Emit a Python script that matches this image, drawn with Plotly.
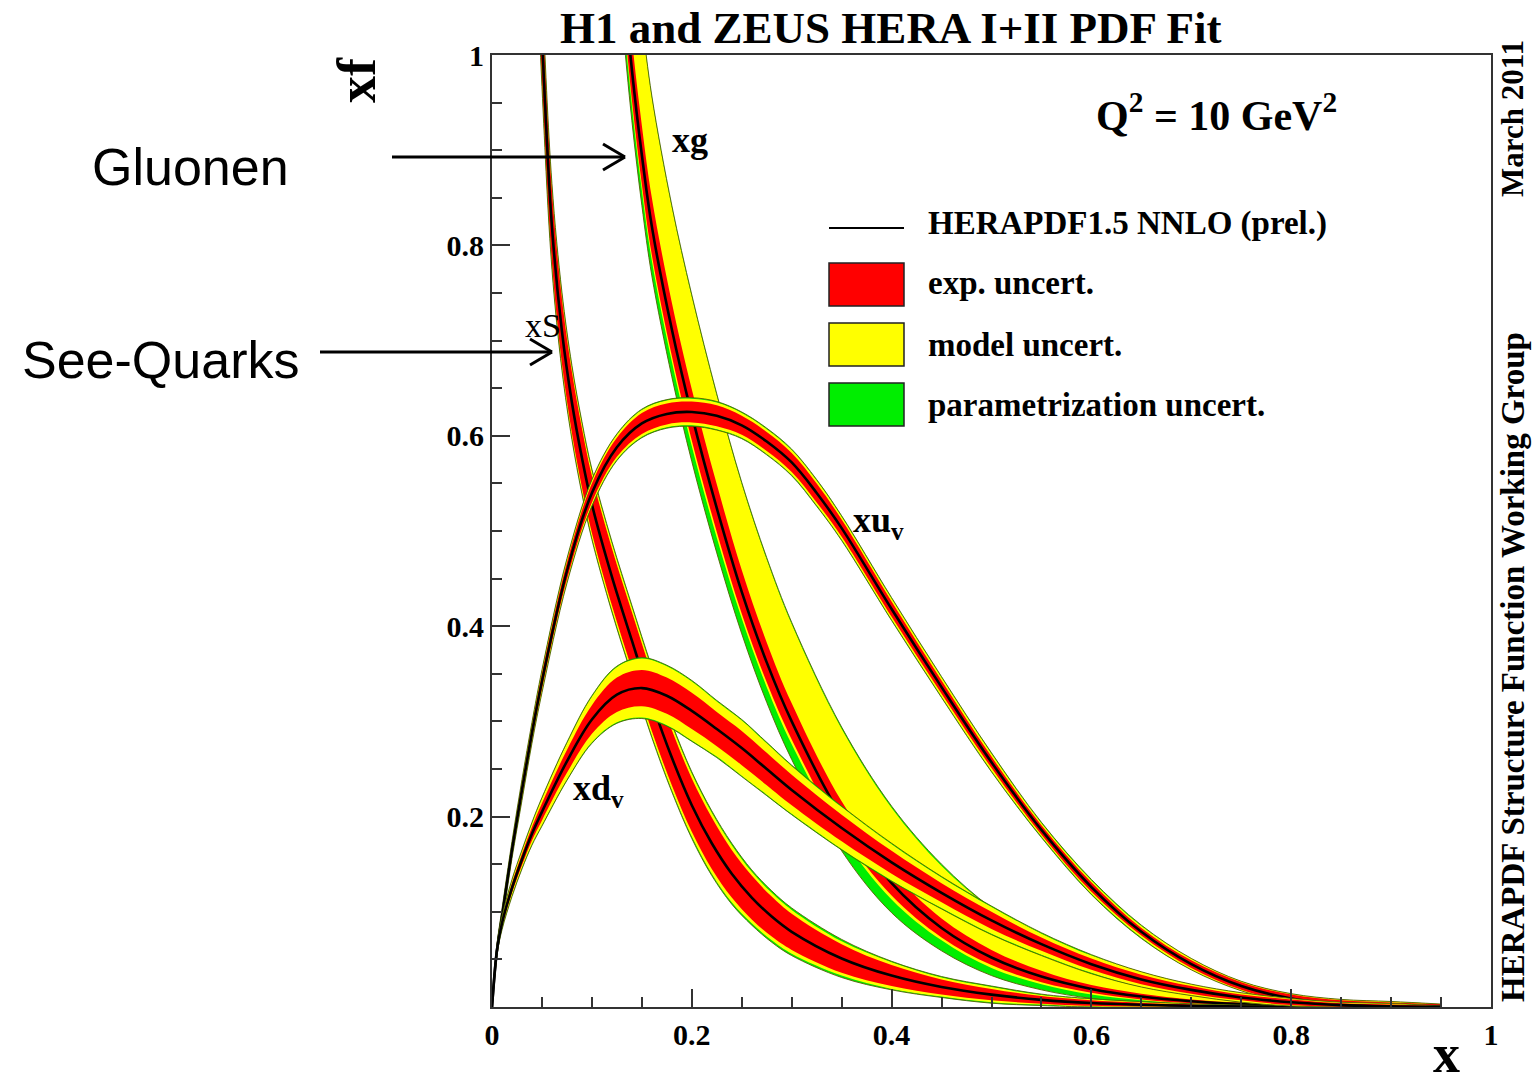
import plotly.graph_objects as go

# ---------------- data ----------------
# valence up
X_UV = [0.0, 0.005, 0.01, 0.02, 0.03, 0.04, 0.05, 0.075, 0.1, 0.125, 0.15, 0.175, 0.2, 0.225, 0.25, 0.275,
        0.3, 0.325, 0.35, 0.4, 0.45, 0.5, 0.55, 0.6, 0.65, 0.7, 0.75, 0.8, 0.85, 0.9, 0.95]
UV = [0.0, 0.06, 0.095, 0.165, 0.228, 0.288, 0.342, 0.458, 0.54, 0.588, 0.613, 0.623, 0.625, 0.621, 0.611, 0.594,
      0.572, 0.54, 0.503, 0.418, 0.336, 0.257, 0.186, 0.126, 0.079, 0.045, 0.022, 0.009, 0.003, 0.0008, 0.0001]
UV_EXP = [0.0, 0.004, 0.005, 0.006, 0.007, 0.007, 0.008, 0.009, 0.01, 0.01, 0.011, 0.011, 0.011, 0.011, 0.01, 0.01,
          0.01, 0.01, 0.009, 0.008, 0.007, 0.006, 0.005, 0.005, 0.004, 0.004, 0.004, 0.004, 0.004, 0.004, 0.003]
UV_MOD = [0.0, 0.001, 0.002, 0.002, 0.003, 0.003, 0.003, 0.003, 0.003, 0.003, 0.003, 0.003, 0.003, 0.003, 0.003, 0.003,
          0.003, 0.003, 0.003, 0.003, 0.003, 0.003, 0.002, 0.002, 0.002, 0.002, 0.001, 0.001, 0.001, 0.001, 0.0]
UV_PAR = [0.0, 0.001, 0.001, 0.001, 0.001, 0.001, 0.001, 0.001, 0.001, 0.001, 0.001, 0.001, 0.001, 0.001, 0.001, 0.001,
          0.001, 0.001, 0.001, 0.001, 0.001, 0.001, 0.001, 0.001, 0.001, 0.0, 0.0, 0.0, 0.0, 0.0, 0.0]

# valence down
X_DV = [0.0, 0.005, 0.01, 0.02, 0.03, 0.04, 0.05, 0.075, 0.1, 0.125, 0.15, 0.175, 0.2, 0.225, 0.25, 0.275,
        0.3, 0.35, 0.4, 0.45, 0.5, 0.55, 0.6, 0.65, 0.7, 0.75, 0.8, 0.85, 0.9, 0.95]
DV = [0.0, 0.06, 0.088, 0.125, 0.155, 0.182, 0.205, 0.258, 0.302, 0.328, 0.335, 0.327, 0.311, 0.292, 0.272, 0.25,
      0.228, 0.188, 0.152, 0.12, 0.091, 0.066, 0.045, 0.029, 0.018, 0.01, 0.005, 0.002, 0.0007, 0.0002]
DV_EXP = [0.0, 0.003, 0.004, 0.005, 0.006, 0.007, 0.009, 0.012, 0.015, 0.018, 0.019, 0.019, 0.019, 0.018, 0.018, 0.017,
          0.016, 0.014, 0.012, 0.01, 0.009, 0.007, 0.006, 0.005, 0.004, 0.003, 0.003, 0.002, 0.002, 0.001]
DV_MOD = [0.0, 0.001, 0.002, 0.003, 0.003, 0.004, 0.005, 0.007, 0.009, 0.011, 0.012, 0.012, 0.012, 0.011, 0.011, 0.01,
          0.009, 0.008, 0.007, 0.006, 0.005, 0.004, 0.003, 0.003, 0.002, 0.002, 0.001, 0.001, 0.001, 0.0]
DV_PAR = [0.0, 0.001, 0.001, 0.001, 0.001, 0.001, 0.001, 0.001, 0.001, 0.001, 0.001, 0.001, 0.001, 0.001, 0.001, 0.001,
          0.001, 0.001, 0.001, 0.001, 0.001, 0.001, 0.001, 0.0, 0.0, 0.0, 0.0, 0.0, 0.0, 0.0]

# sea quarks
X_S = [0.03, 0.04, 0.05, 0.06, 0.07, 0.08, 0.09, 0.1, 0.12, 0.14, 0.16, 0.18, 0.2, 0.22, 0.24, 0.26, 0.28,
       0.3, 0.35, 0.4, 0.45, 0.5, 0.55, 0.6, 0.7, 0.8]
S = [1.75, 1.3, 1.02, 0.82, 0.71, 0.635, 0.577, 0.528, 0.452, 0.385, 0.32, 0.262, 0.212, 0.172, 0.14, 0.115, 0.095,
     0.079, 0.051, 0.033, 0.021, 0.013, 0.0075, 0.0042, 0.0012, 0.0003]
S_EXP = [0.08, 0.06, 0.045, 0.038, 0.034, 0.032, 0.031, 0.03, 0.03, 0.03, 0.03, 0.029, 0.028, 0.027, 0.025, 0.023,
         0.021, 0.019, 0.015, 0.011, 0.008, 0.006, 0.004, 0.003, 0.0015, 0.0005]
S_MOD = [0.01, 0.008, 0.006, 0.005, 0.005, 0.005, 0.005, 0.005, 0.005, 0.005, 0.005, 0.005, 0.005, 0.005, 0.005,
         0.004, 0.004, 0.004, 0.003, 0.003, 0.002, 0.002, 0.001, 0.001, 0.0005, 0.0002]
S_PAR = [0.002, 0.002, 0.002, 0.002, 0.002, 0.002, 0.002, 0.002, 0.002, 0.002, 0.002, 0.002, 0.002, 0.002, 0.002,
         0.002, 0.002, 0.002, 0.002, 0.001, 0.001, 0.001, 0.001, 0.0005, 0.0002, 0.0]

# gluon
X_G = [0.1, 0.12, 0.13, 0.14, 0.15, 0.16, 0.18, 0.2, 0.225, 0.25, 0.275, 0.3, 0.35, 0.4,
       0.45, 0.5, 0.55, 0.6, 0.65, 0.7, 0.75, 0.8, 0.85, 0.9]
G = [1.6, 1.25, 1.1, 0.985, 0.895, 0.82, 0.712, 0.622, 0.524, 0.436, 0.362, 0.3, 0.2, 0.13,
     0.083, 0.052, 0.032, 0.019, 0.011, 0.006, 0.003, 0.0012, 0.0004, 0.0001]
G_EXP = [0.04, 0.035, 0.033, 0.032, 0.031, 0.03, 0.028, 0.027, 0.025, 0.023, 0.021, 0.019, 0.016, 0.013,
         0.01, 0.008, 0.006, 0.004, 0.003, 0.002, 0.0015, 0.001, 0.0005, 0.0002]
G_MOD_UP = [0.15, 0.13, 0.12, 0.115, 0.11, 0.105, 0.1, 0.097, 0.093, 0.09, 0.087, 0.083, 0.076, 0.066,
            0.055, 0.043, 0.032, 0.022, 0.014, 0.008, 0.004, 0.002, 0.001, 0.0003]
G_MOD_DN = [0.01, 0.008, 0.007, 0.006, 0.006, 0.006, 0.006, 0.006, 0.006, 0.005, 0.005, 0.005, 0.004, 0.004,
            0.003, 0.003, 0.002, 0.002, 0.001, 0.001, 0.0005, 0.0003, 0.0001, 0.0]
G_PAR_UP = [0.002, 0.002, 0.002, 0.002, 0.002, 0.002, 0.002, 0.002, 0.002, 0.002, 0.002, 0.002, 0.002, 0.002,
            0.002, 0.001, 0.001, 0.001, 0.001, 0.0005, 0.0, 0.0, 0.0, 0.0]
G_PAR_DN = [0.02, 0.018, 0.017, 0.016, 0.016, 0.016, 0.016, 0.016, 0.016, 0.016, 0.016, 0.016, 0.016, 0.014,
            0.011, 0.008, 0.006, 0.004, 0.003, 0.002, 0.001, 0.0005, 0.0002, 0.0]

X_TICKS = [0, 0.2, 0.4, 0.6, 0.8, 1]
X_TICK_TEXT = ["0", "0.2", "0.4", "0.6", "0.8", "1"]
Y_TICKS = [0.2, 0.4, 0.6, 0.8, 1]
Y_TICK_TEXT = ["0.2", "0.4", "0.6", "0.8", "1"]

# ---------------- styling ----------------
RED = "#ff0000"
YELLOW = "#ffff00"
GREEN = "#00ee00"
EDGE = "rgba(85,95,0,0.9)"
SERIF = "Liberation Serif"
SANS = "Liberation Sans"

fig = go.Figure()


def band(x, lo, hi, color):
    fig.add_trace(go.Scatter(x=x, y=lo, mode="lines", line=dict(width=0, shape="spline"),
                             hoverinfo="skip", showlegend=False))
    fig.add_trace(go.Scatter(x=x, y=hi, mode="lines", line=dict(width=0, shape="spline"),
                             fill="tonexty", fillcolor=color, hoverinfo="skip", showlegend=False))


def add_pdf(x, c, exp, mod_up, mod_dn, par_up, par_dn):
    n = len(x)
    e_lo = [max(c[i] - exp[i], 0) for i in range(n)]
    e_hi = [c[i] + exp[i] for i in range(n)]
    m_lo = [max(c[i] - exp[i] - mod_dn[i], 0) for i in range(n)]
    m_hi = [c[i] + exp[i] + mod_up[i] for i in range(n)]
    t_lo = [max(c[i] - exp[i] - mod_dn[i] - par_dn[i], 0) for i in range(n)]
    t_hi = [c[i] + exp[i] + mod_up[i] + par_up[i] for i in range(n)]
    band(x, t_lo, t_hi, GREEN)
    band(x, m_lo, m_hi, YELLOW)
    band(x, e_lo, e_hi, RED)
    for edge in (t_lo, t_hi):
        fig.add_trace(go.Scatter(x=x, y=edge, mode="lines",
                                 line=dict(color=EDGE, width=1, shape="spline"),
                                 hoverinfo="skip", showlegend=False))
    fig.add_trace(go.Scatter(x=x, y=c, mode="lines",
                             line=dict(color="black", width=2.6, shape="spline"),
                             hoverinfo="skip", showlegend=False))


add_pdf(X_G, G, G_EXP, G_MOD_UP, G_MOD_DN, G_PAR_UP, G_PAR_DN)
add_pdf(X_S, S, S_EXP, S_MOD, S_MOD, S_PAR, S_PAR)
add_pdf(X_UV, UV, UV_EXP, UV_MOD, UV_MOD, UV_PAR, UV_PAR)
add_pdf(X_DV, DV, DV_EXP, DV_MOD, DV_MOD, DV_PAR, DV_PAR)

axis_common = dict(
    showgrid=False, zeroline=False, showline=True, linecolor="#333333", linewidth=2,
    mirror=True, ticks="inside", ticklen=18, tickwidth=1.5, tickcolor="#333333",
    tickfont=dict(family=SERIF, size=30, color="black", weight="bold"),
)

fig.update_xaxes(range=[0, 1], tickmode="array", tickvals=X_TICKS, ticktext=X_TICK_TEXT,
                 minor=dict(tickmode="linear", tick0=0, dtick=0.05, ticks="inside", ticklen=10,
                            tickwidth=1.5, tickcolor="#333333"),
                 **axis_common)
fig.update_yaxes(range=[0, 1], tickmode="array", tickvals=Y_TICKS, ticktext=Y_TICK_TEXT,
                 minor=dict(tickmode="linear", tick0=0, dtick=0.05, ticks="inside", ticklen=10,
                            tickwidth=1.5, tickcolor="#333333"),
                 **axis_common)

W, H = 1533, 1087
L, R, T, B = 492, 42, 55, 80
PW, PH = W - L - R, H - T - B


def px(x):
    return (x - L) / PW


def py(y):
    return (H - B - y) / PH


ann = []


def text(x, y, s, size, family=SERIF, bold=True, angle=0, xanchor="center", yanchor="middle"):
    ann.append(dict(x=px(x), y=py(y), xref="paper", yref="paper", text=s, showarrow=False,
                    xanchor=xanchor, yanchor=yanchor, textangle=angle,
                    font=dict(family=family, size=size, color="black",
                              weight="bold" if bold else "normal")))


text(891, 28, "H1 and ZEUS HERA I+II PDF Fit", 45)
text(357, 80, "xf", 54, angle=-90)
text(1446, 1086, "x", 54, yanchor="bottom")
text(1216, 112, "Q<sup>2</sup> = 10 GeV<sup>2</sup>", 42)
text(690, 140, "xg", 36)
text(543, 325, "xS", 34, bold=False)
text(878, 522, "xu<sub>v</sub>", 36)
text(598, 790, "xd<sub>v</sub>", 36)
text(1513, 667, "HERAPDF Structure Function Working Group", 33, angle=-90)
text(1513, 119, "March 2011", 31, angle=-90)
text(190, 167, "Gluonen", 52, family=SANS, bold=False)
text(160, 360, "See-Quarks", 52, family=SANS, bold=False)

# legend
text(926, 223, "HERAPDF1.5 NNLO (prel.)", 33, xanchor="left")
text(926, 283, "exp. uncert.", 33, xanchor="left")
text(926, 345, "model uncert.", 33, xanchor="left")
text(926, 405, "parametrization uncert.", 33, xanchor="left")

shapes = []
shapes.append(dict(type="line", xref="paper", yref="paper", x0=px(829), x1=px(904), y0=py(228), y1=py(228),
                   line=dict(color="black", width=2)))
for (y0, y1, col) in [(263, 306, RED), (323, 366, YELLOW), (383, 426, GREEN)]:
    shapes.append(dict(type="rect", xref="paper", yref="paper", x0=px(829), x1=px(904),
                       y0=py(y1), y1=py(y0), fillcolor=col, line=dict(color="#222222", width=1.5)))

# arrows
for (x0, x1, yy) in [(392, 625, 157), (320, 552, 352)]:
    shapes.append(dict(type="line", xref="paper", yref="paper", x0=px(x0), x1=px(x1), y0=py(yy), y1=py(yy),
                       line=dict(color="black", width=3)))
    for dy in (-13, 13):
        shapes.append(dict(type="line", xref="paper", yref="paper", x0=px(x1 - 22), x1=px(x1),
                           y0=py(yy + dy), y1=py(yy), line=dict(color="black", width=3)))

fig.update_layout(
    width=W, height=H, margin=dict(l=L, r=R, t=T, b=B),
    paper_bgcolor="white", plot_bgcolor="white", showlegend=False,
    annotations=ann, shapes=shapes,
)

fig.write_html("out.html")
